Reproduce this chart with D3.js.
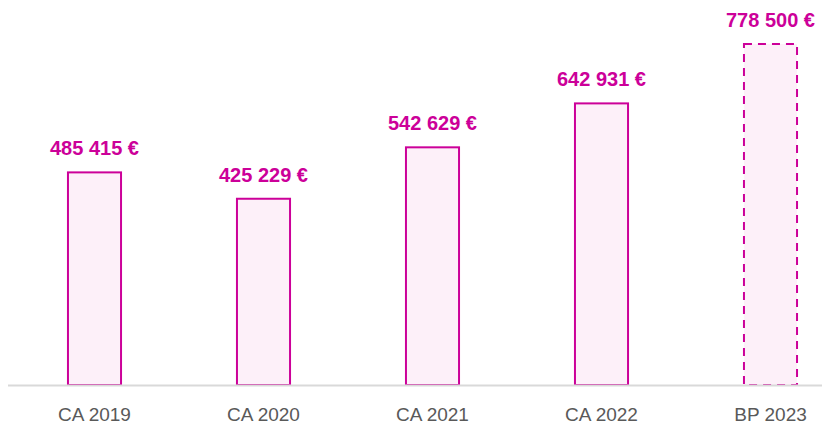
<!DOCTYPE html>
<html>
<head>
<meta charset="utf-8">
<script src="https://cdn.jsdelivr.net/npm/d3@7"></script>
<style>
  body { margin: 0; background: #fff; }
  .val { font-family: "Liberation Sans", Arial, sans-serif; font-weight: bold; fill: #cc0099; }
  .cat { font-family: "Liberation Sans", Arial, sans-serif; fill: #595959; }
</style>
</head>
<body>
<div id="chart"></div>
<script>
const categories = ["CA 2019", "CA 2020", "CA 2021", "CA 2022", "BP 2023"];
const values = [485415, 425229, 542629, 642931, 778500];
const valueLabels = ["485 415 €", "425 229 €", "542 629 €", "642 931 €", "778 500 €"];
const forecast = [false, false, false, false, true];

const width = 822;
const height = 425;
const baseY = 385;

const svg = d3.select("#chart")
    .append("svg")
    .attr("width", width)
    .attr("height", height);

const x = d3.scaleBand()
    .domain(categories)
    .range([10, 855])
    .paddingInner(0.686)
    .paddingOuter(0.343);

const y = d3.scaleLinear()
    .domain([0, 879000])
    .range([baseY, 0]);

const data = categories.map((c, i) => ({ cat: c, value: values[i], label: valueLabels[i], dashed: forecast[i] }));

// bars
svg.selectAll("rect.bar")
    .data(data)
    .enter()
    .append("rect")
    .attr("class", "bar")
    .attr("x", d => x(d.cat))
    .attr("y", d => y(d.value))
    .attr("width", x.bandwidth())
    .attr("height", d => baseY - y(d.value))
    .attr("fill", "#fdf0f9")
    .attr("stroke", "#cc0099")
    .attr("stroke-width", 2)
    .attr("stroke-dasharray", d => d.dashed ? "8,6" : null);

// axis line
svg.append("line")
    .attr("x1", 8)
    .attr("x2", width)
    .attr("y1", baseY + 0.5)
    .attr("y2", baseY + 0.5)
    .attr("stroke", "#d9d9d9")
    .attr("stroke-width", 2);

// value labels
svg.selectAll("text.val")
    .data(data)
    .enter()
    .append("text")
    .attr("class", "val")
    .attr("x", d => x(d.cat) + x.bandwidth() / 2)
    .attr("y", d => y(d.value) - 17)
    .attr("text-anchor", "middle")
    .attr("font-size", 20)
    .text(d => d.label);

// category labels
const xAxis = svg.append("g")
    .attr("transform", `translate(0,${baseY})`)
    .call(d3.axisBottom(x).tickSize(0));
xAxis.select(".domain").remove();
xAxis.selectAll("text")
    .attr("class", "cat")
    .attr("font-size", 19)
    .attr("dy", null)
    .attr("y", 36);
</script>
</body>
</html>
